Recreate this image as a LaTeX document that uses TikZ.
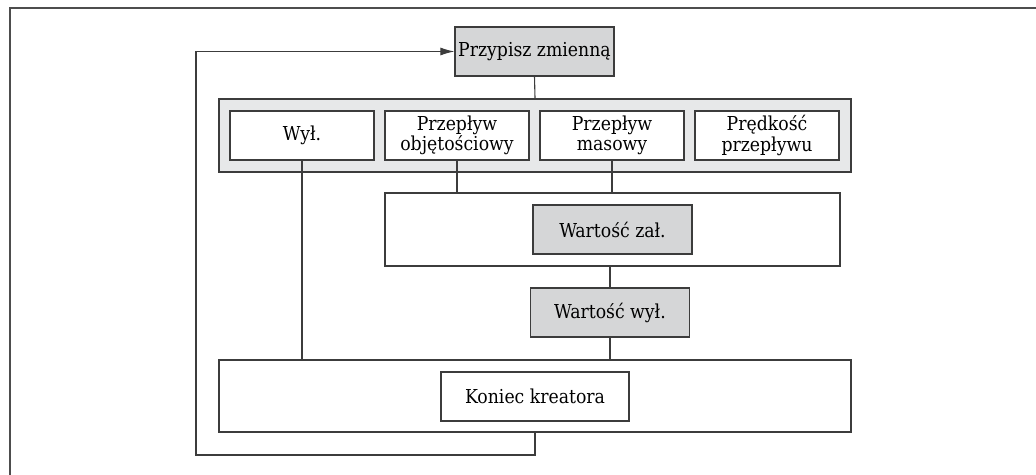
\documentclass[tikz,border=0pt]{standalone}
\usepackage{fontspec}
\setmainfont{DejaVu Serif Condensed}
\usepackage{tikz}
\usetikzlibrary{arrows.meta}
\definecolor{frameline}{HTML}{4D4D4D}
\definecolor{boxline}{HTML}{3C3C3C}
\definecolor{paramfill}{HTML}{D5D6D7}
\definecolor{groupfill}{HTML}{E7E8E9}

\begin{document}
\begin{tikzpicture}[x=0.5pt,y=-0.5pt,
    font=\fontsize{9.6}{10.2}\selectfont,
    box/.style={draw=boxline,line width=0.6pt,inner sep=0pt,align=center,minimum height=24.5pt},
    param/.style={box,fill=paramfill},
    choice/.style={box,fill=white,minimum width=72pt},
    panel/.style={draw=boxline,line width=0.6pt,inner sep=0pt},
    link/.style={draw=boxline,line width=0.55pt}]
    \useasboundingbox (0,0) rectangle (1036,475);
    \draw[frameline,line width=1pt] (10,475) -- (10,8) -- (1036,8);

    \node[param,minimum width=79.5pt] (assign) at (534.5,51.5) {Przypisz zmienną};

    \node[panel,fill=groupfill,minimum width=316pt,minimum height=36.5pt] (group) at (535,135.5) {};
    \node[choice] (off) at (302,135.5) {Wył.};
    \node[choice] (vol) at (457,135.5) {Przepływ\\objętościowy};
    \node[choice] (mass) at (612,135.5) {Przepływ\\masowy};
    \node[choice] (speed) at (767,135.5) {Prędkość\\przepływu};

    \node[panel,fill=white,minimum width=227.5pt,minimum height=36.5pt] (onpanel) at (612.5,229.5) {};
    \node[param,minimum width=79.5pt] (on) at (612.5,229.5) {Wartość zał.};
    \node[param,minimum width=79.5pt] (offval) at (610,312.5) {Wartość wył.};

    \node[panel,fill=white,minimum width=316pt,minimum height=36pt] (endpanel) at (535,396) {};
    \node[box,fill=white,minimum width=94pt] (finish) at (535,396.5) {Koniec kreatora};

    % connections between the steps
    \draw[link] (assign.south) -- (group.north);
    \draw[link] (off.south) -- (off.south |- endpanel.north);
    \draw[link] (vol.south) -- (vol.south |- onpanel.north);
    \draw[link] (mass.south) -- (mass.south |- onpanel.north);
    \draw[link] (onpanel.south -| offval.north) -- (offval.north);
    \draw[link] (offval.south) -- (offval.south |- endpanel.north);

    % back to the start
    \coordinate (loopa) at (535,455);
    \coordinate (loopb) at (196,455);
    \draw[link,-{Latex[length=7pt,width=4pt]}] (endpanel.south) -- (loopa) -- (loopb) |- (assign.west);
\end{tikzpicture}
\end{document}
